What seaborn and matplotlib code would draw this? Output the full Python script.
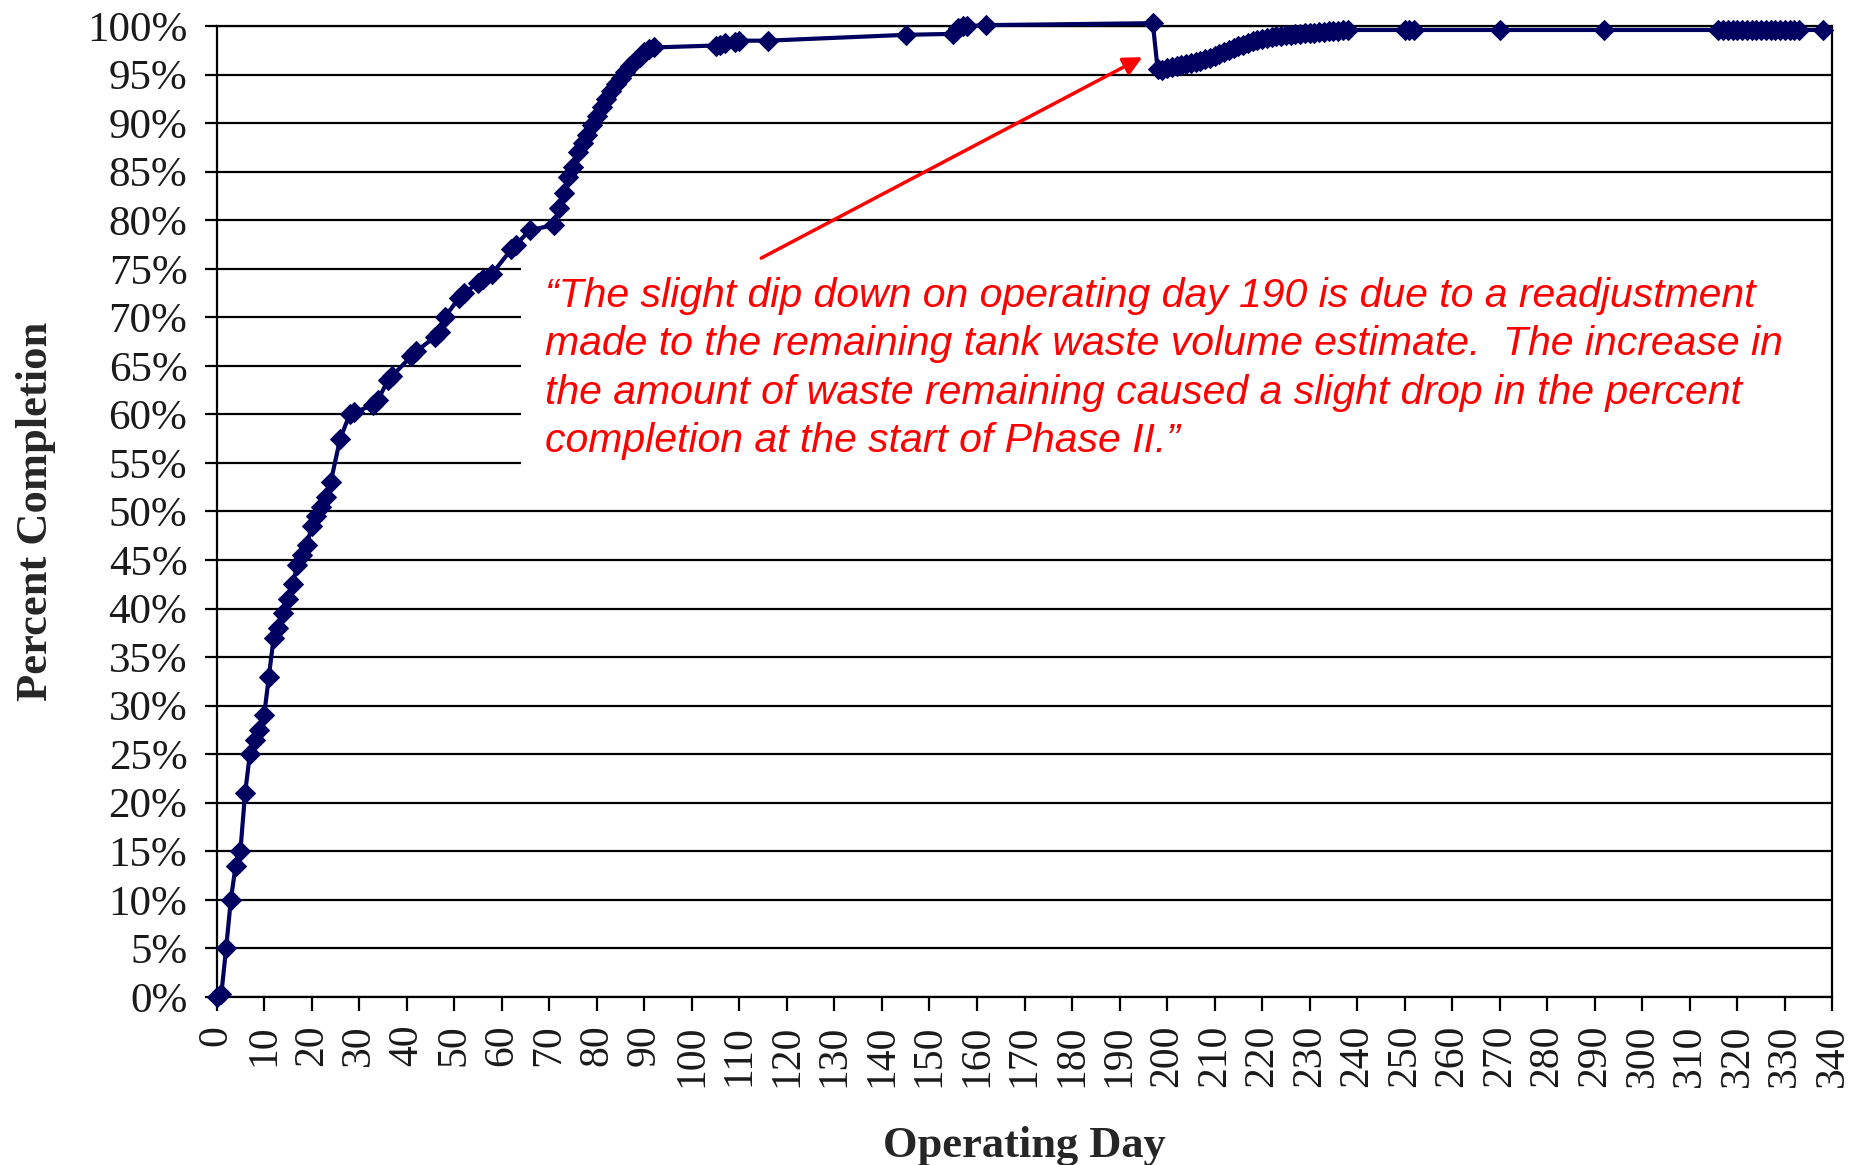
import numpy as np
import seaborn as sns
import pandas as pd
import matplotlib.pyplot as plt
from matplotlib.ticker import PercentFormatter, MultipleLocator
from matplotlib.patches import Rectangle

# Data (operating day, percent completion)
days_phase1 = [0, 1, 2, 3, 4, 5, 6, 7, 8, 9, 10, 11, 12, 13, 14, 15, 16, 17, 18, 19,
               20, 21, 22, 23, 24, 26, 28, 29, 33, 34, 36, 37, 41, 42, 46, 47, 48, 51,
               52, 55, 56, 58, 62, 63, 66, 71, 72, 73, 74, 75, 76, 77, 78, 79, 80, 81,
               82, 83, 84, 85, 86, 87, 88, 89, 90, 91, 92, 105, 106, 107, 109, 110, 116,
               145, 155, 156, 157, 158, 162, 197]
pct_phase1 = [0, 0.3, 5, 10, 13.5, 15, 21, 25, 26.5, 27.5, 29, 33, 37, 38, 39.5, 41,
              42.5, 44.5, 45.5, 46.5, 48.5, 49.5, 50.5, 51.5, 53, 57.5, 60, 60.2, 61,
              61.5, 63.5, 64, 66, 66.5, 68, 68.5, 70, 72, 72.5, 73.5, 74, 74.5, 77,
              77.5, 79, 79.5, 81.3, 82.8, 84.5, 85.5, 87, 88, 88.8, 89.8, 90.7, 91.7,
              92.5, 93.3, 94, 94.7, 95.3, 95.9, 96.4, 96.8, 97.3, 97.6, 97.8, 98, 98.1,
              98.3, 98.4, 98.5, 98.5, 99.1, 99.2, 99.8, 100, 100, 100.1, 100.3]

days_phase2 = [198, 199, 200, 201, 202, 203, 204, 205, 206, 207, 208, 209, 210, 211,
               212, 213, 214, 215, 216, 217, 218, 219, 220, 221, 222, 223, 224, 225,
               226, 227, 228, 229, 230, 231, 232, 233, 234, 235, 236, 237, 238, 250,
               251, 252, 270, 292, 316, 317, 318, 319, 320, 321, 322, 323, 324, 325,
               326, 327, 328, 329, 330, 331, 332, 333, 338]
pct_phase2 = [95.6, 95.5, 95.7, 95.8, 95.9, 96.0, 96.1, 96.2, 96.3, 96.4, 96.6, 96.7,
              96.9, 97.1, 97.3, 97.5, 97.7, 97.9, 98.1, 98.3, 98.5, 98.6, 98.7, 98.8,
              98.9, 99.0, 99.0, 99.1, 99.1, 99.2, 99.2, 99.3, 99.3, 99.3, 99.4, 99.4,
              99.5, 99.5, 99.5, 99.6, 99.6, 99.6, 99.6, 99.6, 99.6, 99.6, 99.6, 99.6,
              99.6, 99.6, 99.6, 99.6, 99.6, 99.6, 99.6, 99.6, 99.6, 99.6, 99.6, 99.6,
              99.6, 99.6, 99.6, 99.6, 99.6]

note_lines = ["\u201cThe slight dip down on operating day 190 is due to a readjustment",
              "made to the remaining tank waste volume estimate.  The increase in",
              "the amount of waste remaining caused a slight drop in the percent",
              "completion at the start of Phase II.\u201d"]

df = pd.DataFrame({"day": days_phase1 + days_phase2,
                   "pct": pct_phase1 + pct_phase2})

sns.set_theme(style="white")
plt.rcParams['font.family'] = ['Liberation Serif', 'DejaVu Serif']

fig = plt.figure(figsize=(18.56, 11.65), dpi=100)
ax = fig.add_axes([0.1167, 0.1443, 0.8706, 0.8333])

navy = "#000060"
sns.lineplot(data=df, x="day", y="pct", ax=ax, sort=False, estimator=None,
             color=navy, linewidth=3, marker="D", markersize=10,
             markeredgecolor=navy, clip_on=False, zorder=3)

ax.set_xlim(0, 340)
ax.set_ylim(0, 100)
ax.xaxis.set_major_locator(MultipleLocator(10))
ax.yaxis.set_major_locator(MultipleLocator(5))
ax.yaxis.set_major_formatter(PercentFormatter(decimals=0))

ax.set_axisbelow(True)
ax.grid(axis="y", color="black", linewidth=1.6)
ax.grid(axis="x", visible=False)
for s in ax.spines.values():
    s.set_color("black")
    s.set_linewidth(1.6)
    s.set_zorder(2.5)

ax.tick_params(axis="x", direction="out", length=10, width=1.6, color="black",
               labelsize=30, labelrotation=90, pad=10, labelcolor="#1a1a1a", bottom=True)
ax.tick_params(axis="y", direction="out", length=9, width=1.6, color="black",
               labelsize=31, pad=12, labelcolor="#1a1a1a", left=True)

ax.set_xlabel("Operating Day", fontsize=32, fontweight="bold", labelpad=28)
ax.set_ylabel("Percent Completion", fontsize=32, fontweight="bold", labelpad=22)

# white box behind the note hides the gridlines
ax.add_patch(Rectangle((64, 53.3), 276, 23.2, facecolor="white", edgecolor="none",
                       zorder=1.5))

ax.annotate("", xy=(194.8, 96.8), xytext=(114.6, 76.1),
            arrowprops=dict(arrowstyle="-|>", color="red", lw=2.5,
                            mutation_scale=28, shrinkA=0, shrinkB=0), zorder=4)

ax.text(69, 74.2, "\n".join(note_lines), color="red", fontsize=29.5, style="italic",
        family=["Liberation Sans", "DejaVu Sans"], va="top", ha="left",
        linespacing=1.35, zorder=4)

fig.savefig("out.png", dpi=100)
